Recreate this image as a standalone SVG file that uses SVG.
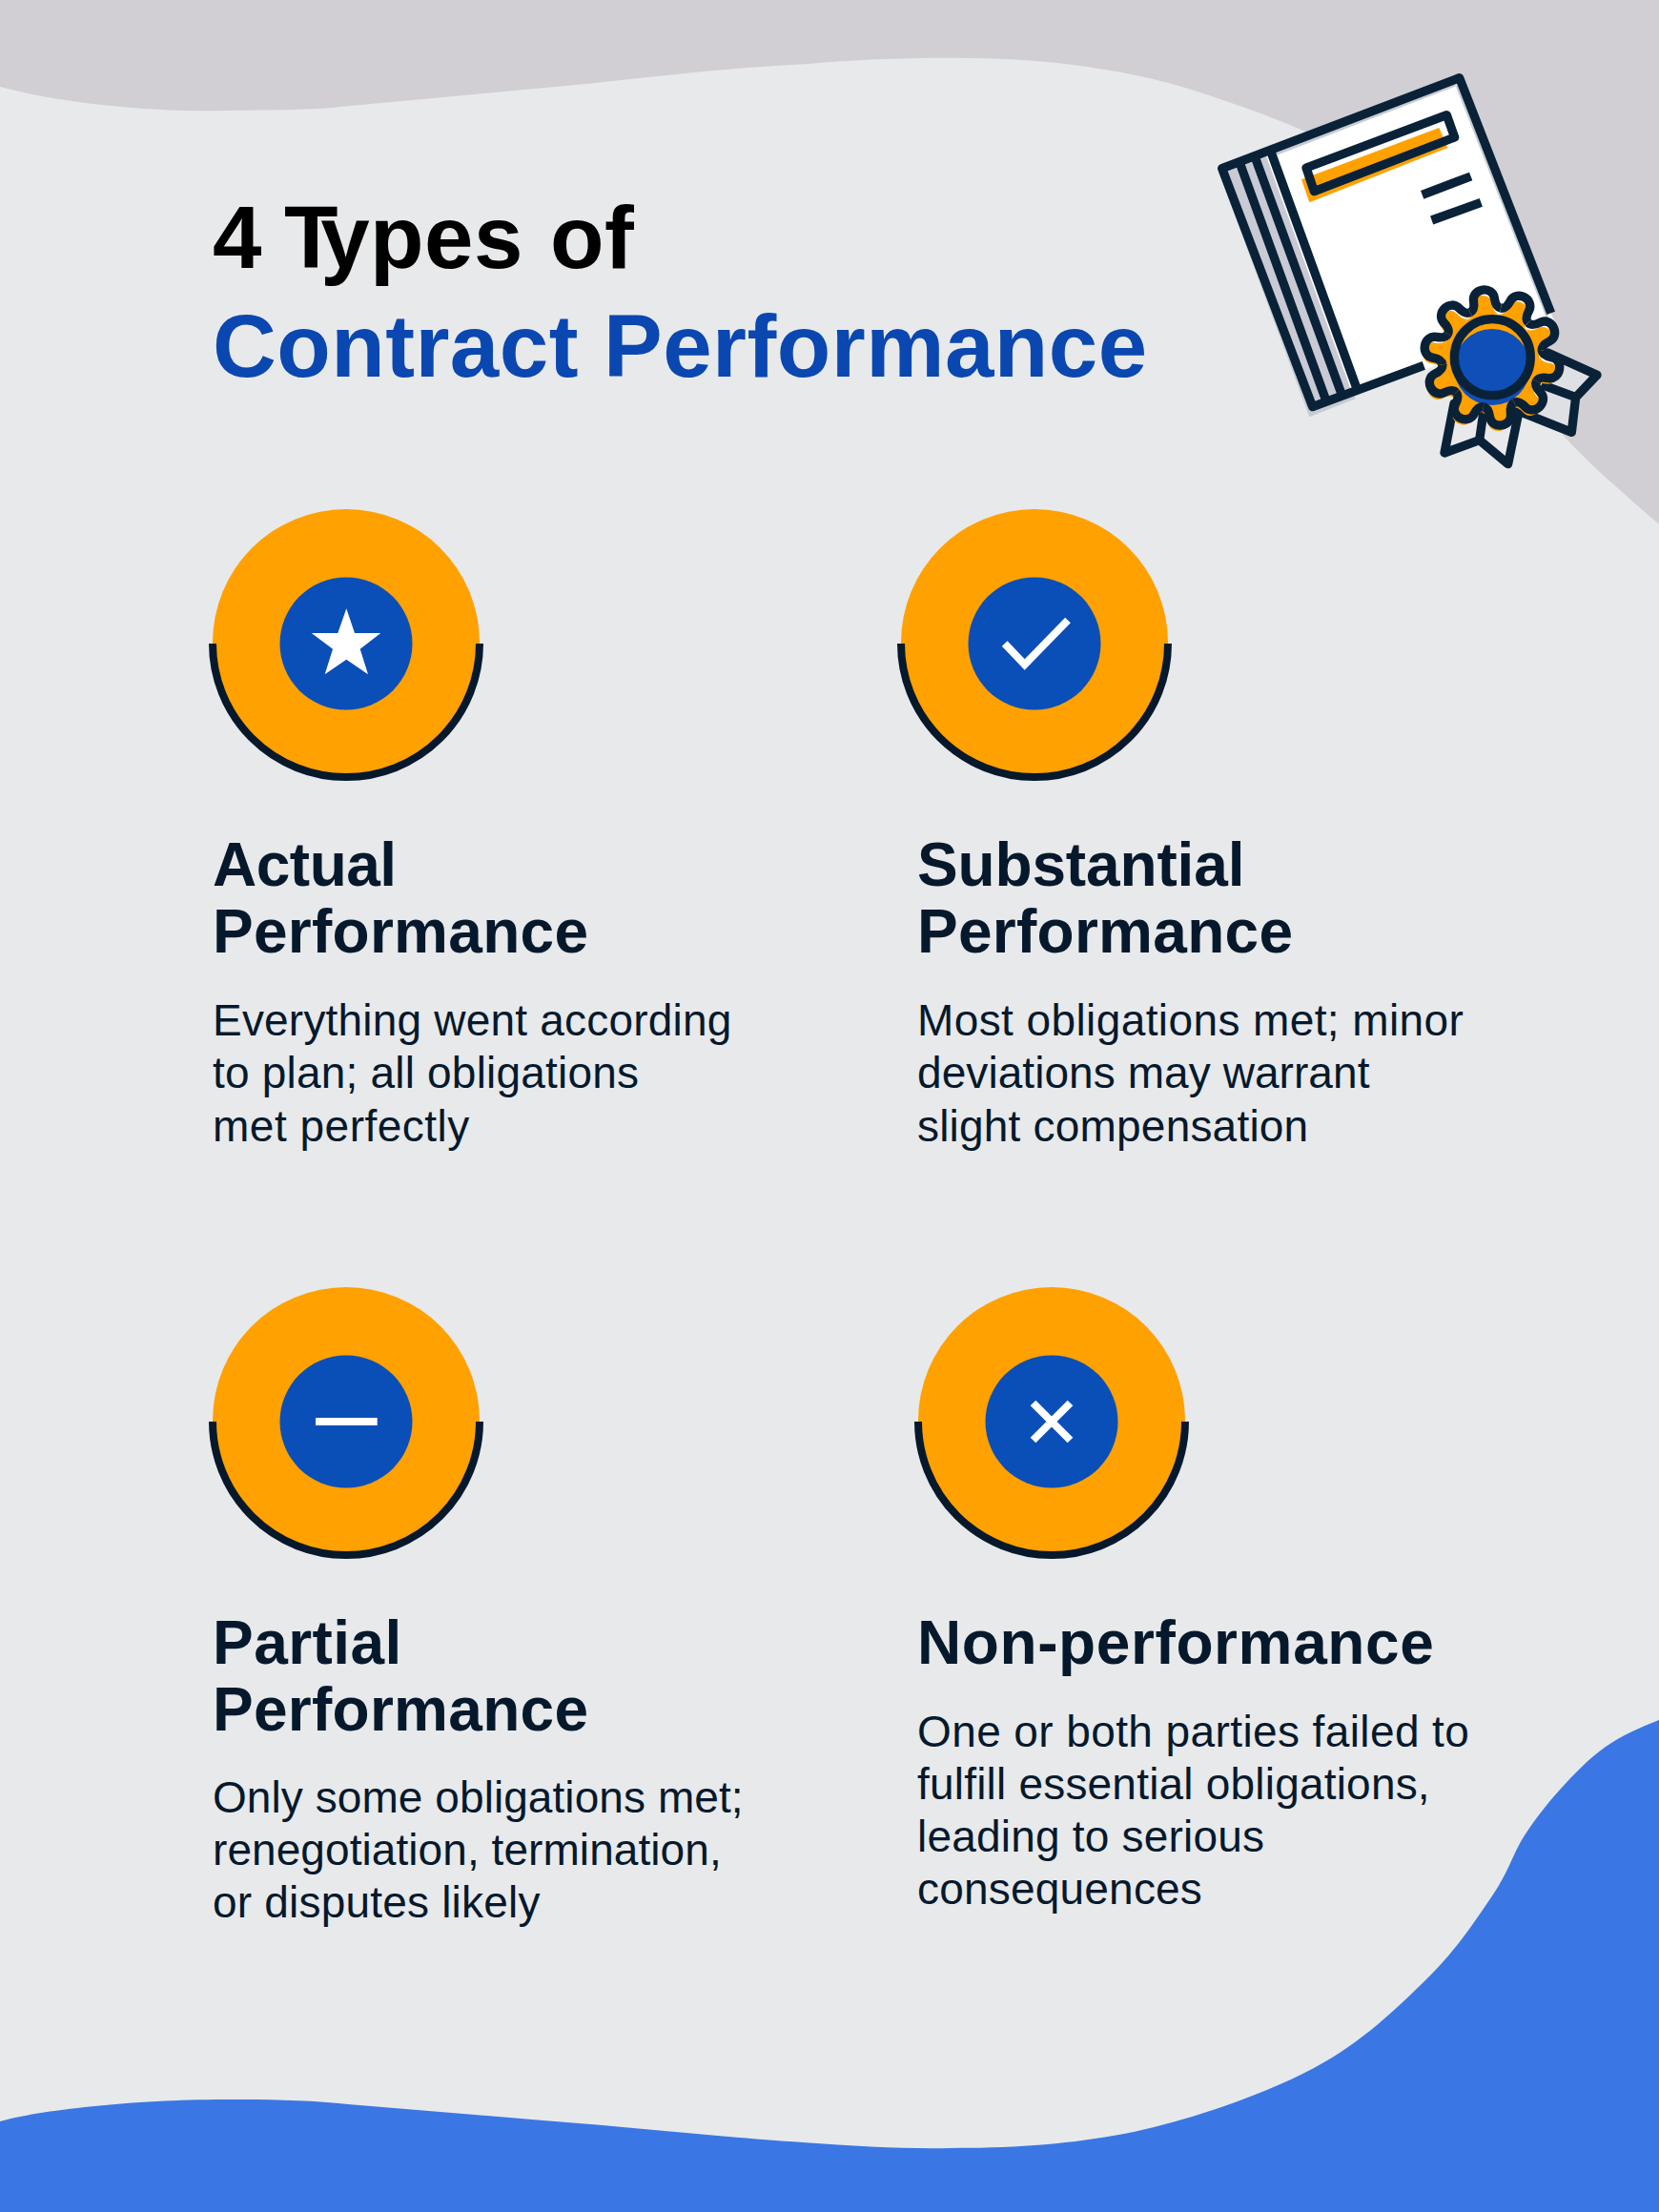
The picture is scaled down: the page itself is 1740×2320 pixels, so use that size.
<svg xmlns="http://www.w3.org/2000/svg" width="1740" height="2320" viewBox="0 0 1740 2320">
<style>
text{font-family:"Liberation Sans",Arial,sans-serif;fill:#06192c}
.h{font-size:64px;font-weight:700;letter-spacing:.27px}
.b{font-size:46px;letter-spacing:.2px}
.t{font-size:92.5px;font-weight:700;letter-spacing:.45px}
.w{letter-spacing:.4px}
.n{letter-spacing:.07px}
.arc{fill:none;stroke:#06192c;stroke-width:8}
.o{fill:#ffa100}
.c{fill:#0a4fb8}
.ink{fill:none;stroke:#0a2238;stroke-width:28;stroke-linejoin:round}
.rib{stroke:#0a2238;stroke-width:28;stroke-linejoin:round}
.mark{fill:none;stroke:#fff;stroke-width:8}
</style>
<defs>
<g id="badge"><circle class="o" r="140" cy="-1"/><path class="arc" d="M-140 0A140 140 0 0 0 140 0"/><circle class="c" r="69.5"/></g>
<path id="lobe" d="M-48.8 -150.3C-36 -154.6 -33 -165 -33 -185C-33 -203 -18 -215 0 -215C18 -215 33 -203 33 -185C33 -165 36 -154.6 48.8 -150.3"/>
<g id="lobes" transform="translate(975 975) rotate(-8)">
<use href="#lobe"/><use href="#lobe" transform="rotate(36)"/><use href="#lobe" transform="rotate(72)"/><use href="#lobe" transform="rotate(108)"/><use href="#lobe" transform="rotate(144)"/><use href="#lobe" transform="rotate(180)"/><use href="#lobe" transform="rotate(216)"/><use href="#lobe" transform="rotate(252)"/><use href="#lobe" transform="rotate(288)"/><use href="#lobe" transform="rotate(324)"/>
</g>
</defs>
<rect width="1740" height="2320" fill="#e8e9eb"/>
<path fill="#d1cfd3" d="M0 0H1740V550C1700 515 1665 485 1640 457C1560 360 1470 185 1367 137C1340 125 1315 116 1277 103C1190 72 1100 62 1018 61C970 60 900 62 848 67C800 69 720 76 625 87L357 112C320 116 290 115 241 116C170 118 70 110 0 91Z"/>
<path fill="#3a77e4" d="M0 2225C40 2213 150 2201 246 2202C290 2202 330 2203 365 2207C454 2214 543 2222 632 2229C700 2235 780 2243 842 2247C900 2251 950 2254 996 2253C1070 2253 1130 2248 1189 2236C1253 2222 1327 2196 1378 2169C1429 2142 1465 2106 1496 2076C1527 2046 1549 2012 1566 1987C1583 1962 1587 1943.5 1599 1925C1611 1906.5 1623 1891.5 1637 1876C1651 1860.5 1667 1844 1684 1832C1701 1820 1720 1812 1740 1804V2320H0Z"/>
<g id="certificate" transform="translate(1240 50) scale(.33333)">
<path fill="#c5ccd3" d="M115 392L400 1162L545 1105L270 340Z"/>
<path fill="#c9cad4" d="M125 380L278 325L550 1075L410 1130Z"/>
<path fill="#fff" d="M262 335L872 95L1170 860L560 1090L530 1075Z"/>
<path fill="#c5ccd3" d="M285 334L865 113L862 121L288 342ZM865 115L859 118L1145 850L1152 850Z"/>
<path fill="#ffa100" d="M375 415L808 252L835 315L400 487Z"/>
<path class="ink" d="M760 1000L410 1130L125 380L872 95L1160 835"/>
<path class="ink" d="M180 360L453 1112M228 342L503 1095M278 325L550 1075"/>
<path class="ink" d="M390 378L832 212L857 282L415 452Z"/>
<path class="ink" d="M755 463L908 405M785 543L940 487"/>
<path class="rib" fill="#dfe0e4" d="M1150 960L1305 1030L1238 1100L1225 1210L1075 1150Z"/>
<path class="rib" fill="#e9e9ec" d="M855 1120L825 1275L935 1235L1025 1310L1060 1140Z"/>
<path class="ink" d="M1130 1060L1238 1100M950 1130L935 1235"/>
<use href="#lobes" fill="#fff"/>
<circle cx="975" cy="975" r="155" fill="#fff"/>
<g transform="translate(-6 18)" fill="#ffa100"><use href="#lobes"/><circle cx="975" cy="975" r="155"/></g>
<circle cx="975" cy="1005" r="120" fill="#0f4fb8"/>
<circle cx="976" cy="974" r="120" fill="none" stroke="#0a2238" stroke-width="28"/>
<use href="#lobes" fill="none" stroke="#0a2238" stroke-width="28" stroke-linejoin="round"/>
</g>
<g id="title">
<text class="t" x="223" y="281" dx="0 0 -3 -12 0 0 0 2 0 0" style="fill:#000">4 Types of</text>
<text class="t" x="223" y="395" style="fill:#0a47b0">Contract Performance</text>
</g>
<g id="actual">
<use href="#badge" x="363" y="675"/>
<path fill="#fff" d="M363.3 638.3L372 664H399.3L377.7 680.7L386 707.3L363.3 691.7L340.7 707.3L349 680.7L326.7 664H354.3Z"/>
<text class="h" x="223" y="929" style="letter-spacing:-.5px">Actual</text><text class="h" x="223" y="999">Performance</text>
<text class="b" x="223" y="1086">Everything went according</text><text class="b" x="223" y="1141">to plan; all obligations</text><text class="b" x="223" y="1197" style="letter-spacing:.5px">met perfectly</text>
</g>
<g id="substantial">
<use href="#badge" x="1085" y="675"/>
<path class="mark" d="M1053.7 675L1074.7 697L1120 650.5"/>
<text class="h" x="962" y="929" style="letter-spacing:-.15px">Substantial</text><text class="h" x="962" y="999">Performance</text>
<text class="b w" x="962" y="1086">Most obligations met; minor</text><text class="b n" x="962" y="1141">deviations may warrant</text><text class="b" x="962" y="1197">slight compensation</text>
</g>
<g id="partial">
<use href="#badge" x="363" y="1491"/>
<path class="mark" d="M331 1491H395.7"/>
<text class="h" x="223" y="1745" style="letter-spacing:.45px">Partial</text><text class="h" x="223" y="1815">Performance</text>
<text class="b n" x="223" y="1901">Only some obligations met;</text><text class="b n" x="223" y="1956">renegotiation, termination,</text><text class="b" x="223" y="2011">or disputes likely</text>
</g>
<g id="non-performance">
<use href="#badge" x="1103" y="1491"/>
<path class="mark" d="M1083.5 1471.5L1122.5 1510.5M1122.5 1471.5L1083.5 1510.5"/>
<text class="h" x="962" y="1745" style="letter-spacing:.6px">Non-performance</text>
<text class="b w" x="962" y="1832">One or both parties failed to</text><text class="b" x="962" y="1887">fulfill essential obligations,</text><text class="b" x="962" y="1942">leading to serious</text><text class="b" x="962" y="1997">consequences</text>
</g>
</svg>
